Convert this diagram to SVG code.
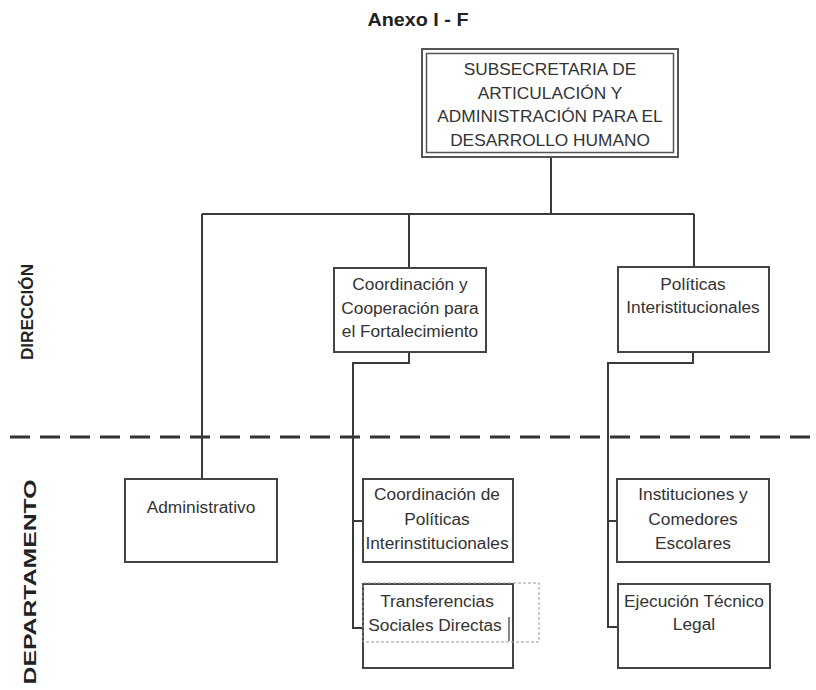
<svg xmlns="http://www.w3.org/2000/svg" width="816" height="690" viewBox="0 0 816 690">
<style>
.box{fill:#fff;stroke:#444;stroke-width:2}
.t{font-family:"Liberation Sans",Arial,sans-serif;font-size:17.3px;fill:#333;text-anchor:middle}
.side{font-family:"Liberation Sans",Arial,sans-serif;font-size:17px;font-weight:bold;fill:#222;text-anchor:middle}
.c{fill:none;stroke:#3a3a3a;stroke-width:2}
</style>
<rect width="816" height="690" fill="#fff"/>
<text x="418" y="26" font-family="'Liberation Sans',Arial,sans-serif" font-size="18" font-weight="bold" fill="#222" text-anchor="middle" textLength="101" lengthAdjust="spacingAndGlyphs">Anexo I - F</text>
<line x1="10" y1="437" x2="816" y2="437" stroke="#333" stroke-width="3" stroke-dasharray="20,10"/>
<text class="side" transform="translate(33,312) rotate(-90)" textLength="96" lengthAdjust="spacingAndGlyphs">DIRECCIÓN</text>
<text class="side" transform="translate(36,582) rotate(-90)" textLength="205" lengthAdjust="spacingAndGlyphs">DEPARTAMENTO</text>
<g id="connectors">
<path class="c" d="M551 157V214M202 214H694M202 214V479M409 214V268M694 214V267"/>
<path class="c" d="M409 352V363H353V628H363M353 521H363"/>
<path class="c" d="M693 352V363H608V627H618M608 521H618"/>
</g>
<g id="subsecretaria">
<rect x="422" y="49" width="256" height="108" fill="#fff" stroke="#555" stroke-width="2"/>
<rect x="426.5" y="53.5" width="247" height="99" fill="none" stroke="#555" stroke-width="1.5"/>
<text class="t" x="550" y="75">SUBSECRETARIA DE</text>
<text class="t" x="550" y="98.5">ARTICULACIÓN Y</text>
<text class="t" x="550" y="122">ADMINISTRACIÓN PARA EL</text>
<text class="t" x="550" y="145.5">DESARROLLO HUMANO</text>
</g>
<g id="coordinacion">
<rect class="box" x="334" y="268" width="152" height="84"/>
<text class="t" x="410" y="290">Coordinación y</text>
<text class="t" x="410" y="313.5">Cooperación para</text>
<text class="t" x="410" y="337">el Fortalecimiento</text>
</g>
<g id="politicas">
<rect class="box" x="618" y="267" width="151" height="85"/>
<text class="t" x="693" y="290">Políticas</text>
<text class="t" x="693" y="313">Interistitucionales</text>
</g>
<g id="administrativo">
<rect class="box" x="125" y="479" width="152" height="83"/>
<text class="t" x="201" y="513">Administrativo</text>
</g>
<g id="coord-politicas">
<rect class="box" x="363" y="479" width="150" height="83"/>
<text class="t" x="437" y="500">Coordinación de</text>
<text class="t" x="437" y="524.5">Políticas</text>
<text class="t" x="437" y="549">Interinstitucionales</text>
</g>
<g id="transferencias">
<rect class="box" x="363" y="584" width="150" height="84"/>
<rect x="363" y="583" width="176" height="59" fill="none" stroke="#999" stroke-width="1" stroke-dasharray="3,2"/>
<text class="t" x="437" y="607">Transferencias</text>
<text class="t" x="435" y="631">Sociales Directas</text>
<line x1="509" y1="617" x2="509" y2="641" stroke="#333" stroke-width="1.2"/>
</g>
<g id="instituciones">
<rect class="box" x="617" y="479" width="152" height="83"/>
<text class="t" x="693" y="500">Instituciones y</text>
<text class="t" x="693" y="525">Comedores</text>
<text class="t" x="693" y="549">Escolares</text>
</g>
<g id="ejecucion">
<rect class="box" x="618" y="584" width="152" height="84"/>
<text class="t" x="694" y="607">Ejecución Técnico</text>
<text class="t" x="694" y="630">Legal</text>
</g>
</svg>
